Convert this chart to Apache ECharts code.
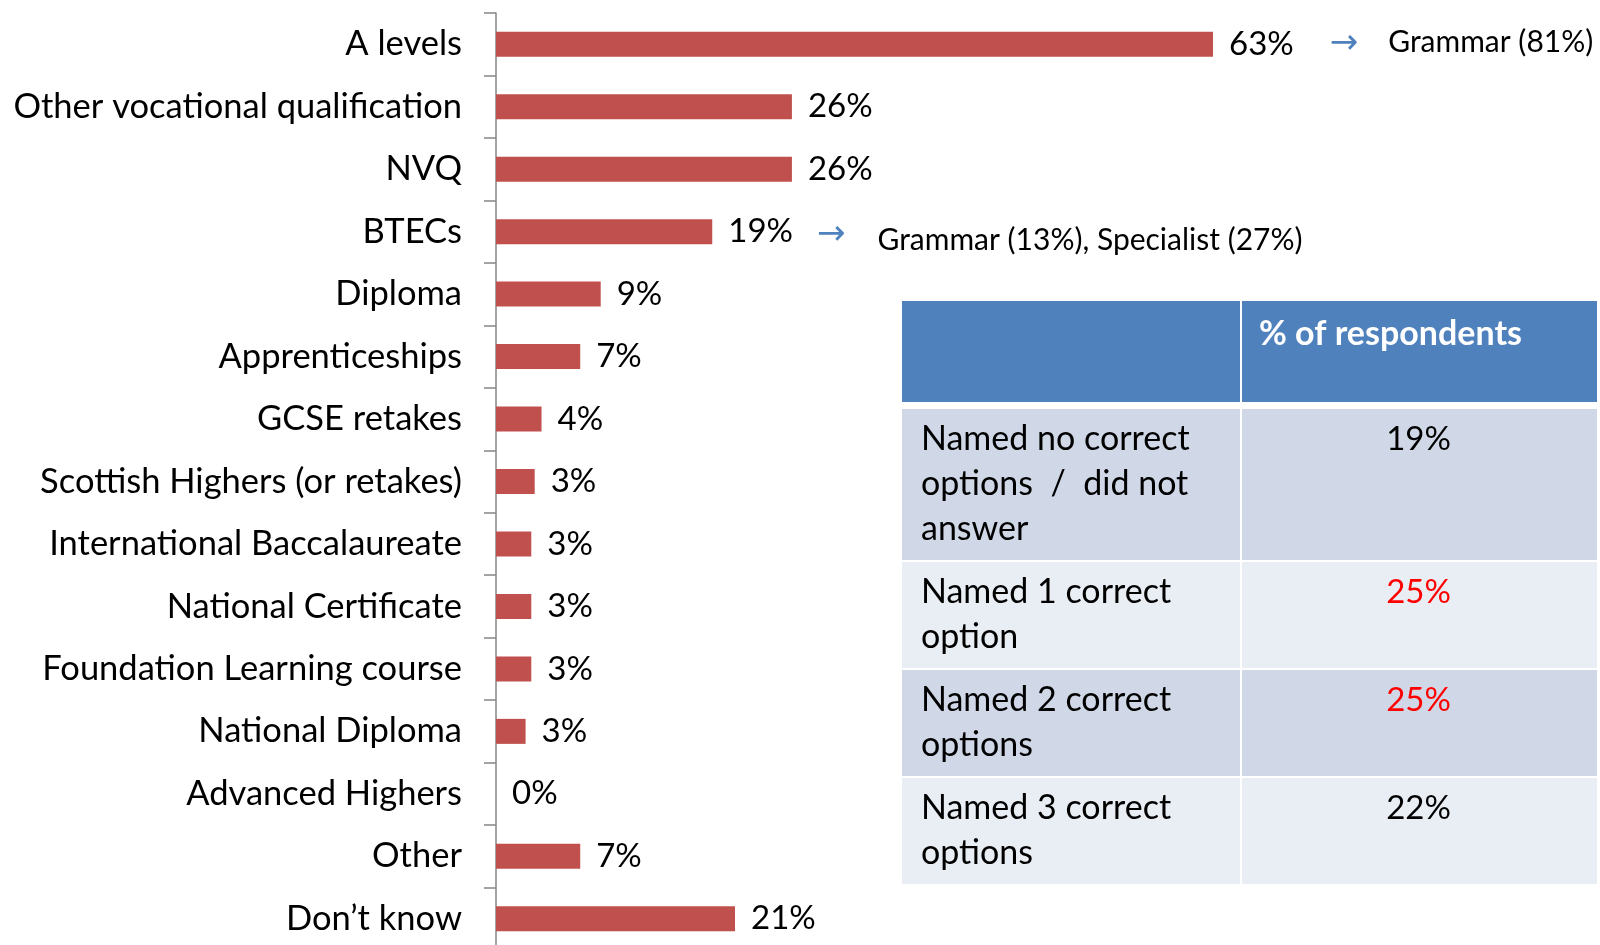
<!DOCTYPE html>
<html>
<head>
<meta charset="utf-8">
<script src="https://cdn.jsdelivr.net/npm/echarts@6/dist/echarts.min.js"></script>
<style>
  html, body { margin: 0; padding: 0; background: #fff; overflow: hidden; }
  #chart { width: 1600px; height: 950px; }
</style>
</head>
<body>
<div id="chart"></div>
<script>
// bar chart data (labels shown rounded)
const categories = ['A levels', 'Other vocational qualification', 'NVQ', 'BTECs', 'Diploma',
  'Apprenticeships', 'GCSE retakes', 'Scottish Highers (or retakes)', 'International Baccalaureate',
  'National Certificate', 'Foundation Learning course', 'National Diploma', 'Advanced Highers',
  'Other', 'Don\u2019t know'];
const values = [63, 26, 26, 19, 9.2, 7.4, 4, 3.4, 3.1, 3.1, 3.1, 2.6, 0, 7.4, 21];
const notes = ['Grammar (81%)', '', '', 'Grammar (13%), Specialist (27%)', '', '', '', '', '', '', '', '', '', '', ''];

// side table
const tableHeader = '% of respondents';
const tableRows = ['Named no correct\noptions  /  did not\nanswer', 'Named 1 correct\noption',
  'Named 2 correct\noptions', 'Named 3 correct\noptions'];
const tableValues = ['19%', '25%', '25%', '22%'];
const tableHighlight = [false, true, true, false];

const FONT = 'Lato';
const chart = echarts.init(document.getElementById('chart'));

// build table graphics
const tX = 902, tSplit = 1240, tRight = 1597;
const lineH = 45;
let graphics = [];
graphics.push({ type: 'rect', shape: { x: tX, y: 301, width: tSplit - tX, height: 101 }, style: { fill: '#4F81BD' } });
graphics.push({ type: 'rect', shape: { x: tSplit + 2, y: 301, width: tRight - tSplit - 2, height: 101 }, style: { fill: '#4F81BD' } });
graphics.push({ type: 'text', x: 1259, y: 312, style: { text: tableHeader, fill: '#fff', font: 'bold 34px ' + FONT, lineHeight: lineH, verticalAlign: 'top' } });
let rowY = 409;
tableRows.forEach((txt, i) => {
  const lines = txt.split('\n').length;
  const h = lines * lineH + 16;
  const fill = i % 2 === 0 ? '#D0D8E8' : '#E9EDF4';
  graphics.push({ type: 'rect', shape: { x: tX, y: rowY, width: tSplit - tX, height: h }, style: { fill: fill } });
  graphics.push({ type: 'rect', shape: { x: tSplit + 2, y: rowY, width: tRight - tSplit - 2, height: h }, style: { fill: fill } });
  graphics.push({ type: 'text', x: 921, y: rowY + 8, style: { text: txt, fill: '#000', font: '34px ' + FONT, lineHeight: lineH, verticalAlign: 'top' } });
  graphics.push({ type: 'text', x: (tSplit + tRight) / 2, y: rowY + 8, style: { text: tableValues[i], fill: tableHighlight[i] ? '#FF0000' : '#000', font: '33px ' + FONT, lineHeight: lineH, align: 'center', verticalAlign: 'top' } });
  rowY += h + 2;
});

const option = {
  animation: false,
  grid: { left: 496, right: 0, top: 13, bottom: 0, containLabel: false },
  xAxis: {
    type: 'value', min: 0, max: 97, show: false
  },
  yAxis: {
    type: 'category',
    inverse: true,
    data: categories,
    axisLine: { show: true, lineStyle: { color: '#868686', width: 1.5 } },
    axisTick: { show: true, length: 12, lineStyle: { color: '#868686', width: 1.5 } },
    axisLabel: { color: '#000', fontFamily: FONT, fontSize: 34.5, margin: 34 }
  },
  series: [{
    type: 'bar',
    data: values,
    barWidth: 25,
    itemStyle: { color: '#C0504D' },
    label: {
      show: true,
      position: 'right',
      distance: 16,
      color: '#000',
      fontFamily: FONT,
      fontSize: 33,
      formatter: p => {
        const v = Math.round(p.value) + '%';
        const n = notes[p.dataIndex];
        if (!n) return v;
        // first note sits level with the bar, the second one a little lower
        return p.dataIndex === 0
          ? v + '{arrowA|\u2192}{noteA|' + n + '}'
          : v + '{arrowB|\u2192}{noteB|' + n + '}';
      },
      rich: {
        arrowA: { color: '#4F81BD', fontFamily: 'DejaVu Sans', fontSize: 34, padding: [0, 30, 0, 36] },
        noteA: { color: '#000', fontFamily: FONT, fontSize: 30, padding: [0, 0, 4, 0] },
        arrowB: { color: '#4F81BD', fontFamily: 'DejaVu Sans', fontSize: 34, padding: [8, 32, 0, 24] },
        noteB: { color: '#000', fontFamily: FONT, fontSize: 30, padding: [18, 0, 0, 0] }
      }
    }
  }],
  graphic: graphics
};
chart.setOption(option);
</script>
</body>
</html>
